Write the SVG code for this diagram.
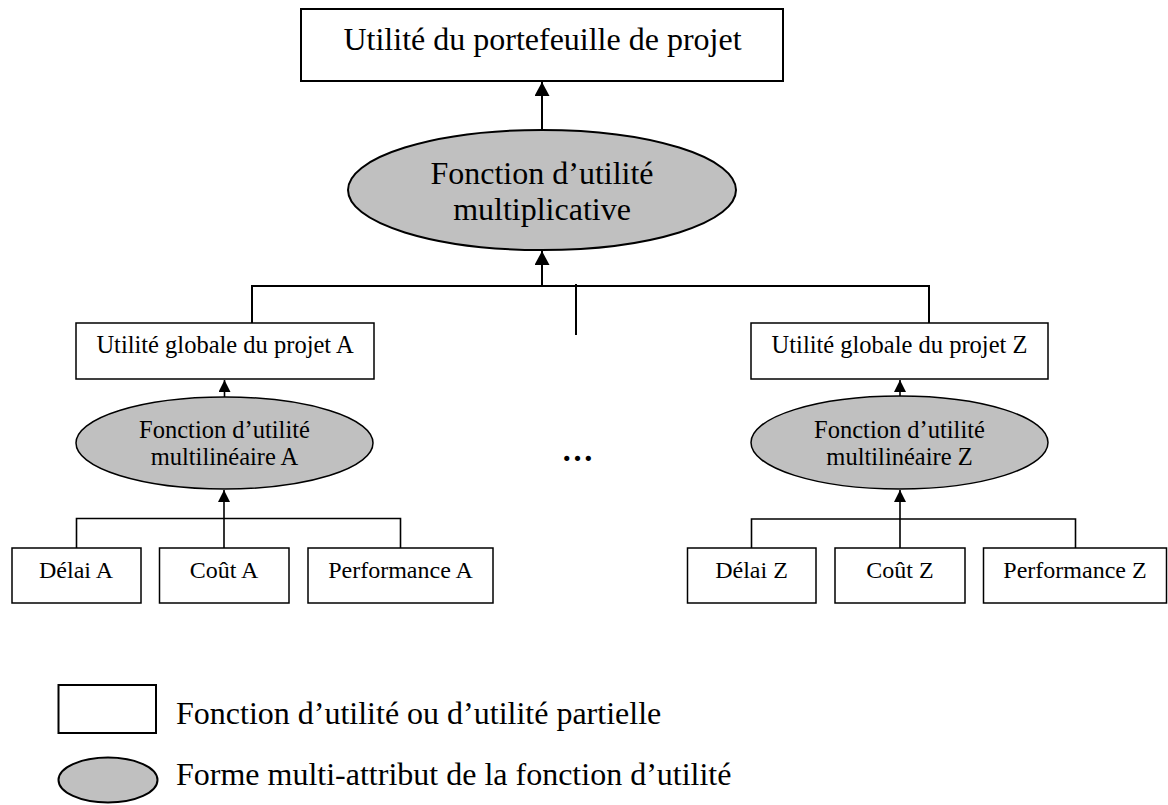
<svg xmlns="http://www.w3.org/2000/svg" width="1168" height="805" viewBox="0 0 1168 805">
<style>
text{font-family:"Liberation Serif","Times New Roman",serif;fill:#000;text-anchor:middle}
.big{font-size:32px}
.mid{font-size:24.5px}
.sm{font-size:24px}
.box{fill:#fff;stroke:#000;stroke-width:1.5}
.boxb{fill:#fff;stroke:#000;stroke-width:2}
.ell{fill:#c0c0c0;stroke:#000;stroke-width:1.5}
.ellb{fill:#c0c0c0;stroke:#000;stroke-width:2}
.ln{fill:none;stroke:#000;stroke-width:2}
.lns{fill:none;stroke:#000;stroke-width:1.6}
.leg{text-anchor:start;font-size:32px}
</style>
<defs>
<marker id="ab" markerUnits="userSpaceOnUse" markerWidth="16" markerHeight="16" refX="14" refY="7.5" orient="auto">
<path d="M0,0 L14,7.5 L0,15 Z" fill="#000"/>
</marker>
<marker id="as" markerUnits="userSpaceOnUse" markerWidth="14" markerHeight="14" refX="12" refY="6" orient="auto">
<path d="M0,0 L12,6 L0,12 Z" fill="#000"/>
</marker>
</defs>
<g id="connectors">
<line class="ln" x1="542" y1="130" x2="542" y2="82" marker-end="url(#ab)"/>
<path class="ln" d="M252,323 V286 H929 V323"/>
<line class="ln" x1="542" y1="286" x2="542" y2="251" marker-end="url(#ab)"/>
<line class="ln" x1="576" y1="284" x2="576" y2="335"/>
<line class="lns" x1="224.5" y1="397" x2="224.5" y2="380" marker-end="url(#as)"/>
<path class="lns" d="M76.5,548 V518.5 H400.5 V548"/>
<line class="lns" x1="224" y1="548" x2="224" y2="490" marker-end="url(#as)"/>
<line class="lns" x1="900" y1="396" x2="900" y2="380" marker-end="url(#as)"/>
<path class="lns" d="M751.5,548 V519 H1075.5 V548"/>
<line class="lns" x1="900" y1="548" x2="900" y2="490" marker-end="url(#as)"/>
</g>
<g id="top">
<rect class="boxb" x="301" y="9" width="482" height="72"/>
<text class="big" x="542.5" y="50">Utilité du portefeuille de projet</text>
</g>
<g id="multiplicative">
<ellipse class="ellb" cx="542" cy="190" rx="194" ry="60"/>
<text class="big" x="542" y="184">Fonction d’utilité</text>
<text class="big" x="542" y="220">multiplicative</text>
</g>
<g id="globalA">
<rect class="box" x="76" y="323" width="298" height="56"/>
<text class="mid" x="225" y="352.5">Utilité globale du projet A</text>
</g>
<g id="multilinA">
<ellipse class="ell" cx="224.5" cy="443" rx="148.5" ry="46"/>
<text class="mid" x="224.5" y="437.5">Fonction d’utilité</text>
<text class="mid" x="224.5" y="465">multilinéaire A</text>
</g>
<g id="delaiA">
<rect class="box" x="12" y="548" width="129" height="55"/>
<text class="sm" x="76" y="577.5">Délai A</text>
</g>
<g id="coutA">
<rect class="box" x="159.5" y="548" width="129.5" height="55"/>
<text class="sm" x="224" y="577.5">Coût A</text>
</g>
<g id="perfA">
<rect class="box" x="308" y="548" width="185" height="55"/>
<text class="sm" x="400.5" y="577.5">Performance A</text>
</g>
<g id="ellipsis">
<text class="big" style="font-weight:bold" x="577.5" y="461">…</text>
</g>
<g id="globalZ">
<rect class="box" x="751" y="323" width="297" height="56"/>
<text class="mid" x="899.5" y="352.5">Utilité globale du projet Z</text>
</g>
<g id="multilinZ">
<ellipse class="ell" cx="899.5" cy="442.5" rx="148.5" ry="46.5"/>
<text class="mid" x="899.5" y="437.5">Fonction d’utilité</text>
<text class="mid" x="899.5" y="465">multilinéaire Z</text>
</g>
<g id="delaiZ">
<rect class="box" x="687.5" y="548" width="128.5" height="55"/>
<text class="sm" x="751.5" y="577.5">Délai Z</text>
</g>
<g id="coutZ">
<rect class="box" x="835" y="548" width="130" height="55"/>
<text class="sm" x="900" y="577.5">Coût Z</text>
</g>
<g id="perfZ">
<rect class="box" x="983.5" y="548" width="183" height="55"/>
<text class="sm" x="1075" y="577.5">Performance Z</text>
</g>
<g id="legend">
<rect class="boxb" x="58.5" y="685" width="97.5" height="48"/>
<text class="leg" x="176" y="723.5">Fonction d’utilité ou d’utilité partielle</text>
<ellipse class="ellb" cx="108" cy="780" rx="49.5" ry="22.5"/>
<text class="leg" x="176" y="785">Forme multi-attribut de la fonction d’utilité</text>
</g>
</svg>
